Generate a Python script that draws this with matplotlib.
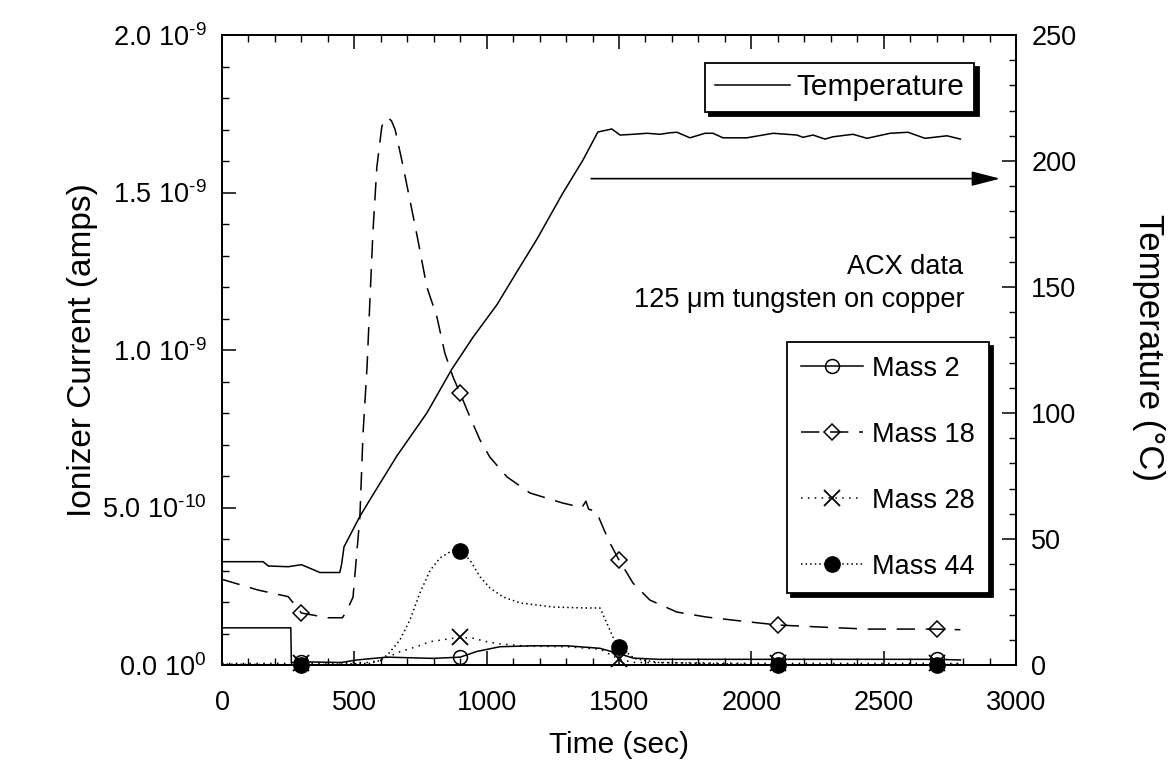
import numpy as np
import matplotlib
matplotlib.use('Agg')
import matplotlib.pyplot as plt
from matplotlib.ticker import MultipleLocator, FixedLocator, FixedFormatter

plt.rcParams['font.family'] = ['Liberation Sans', 'DejaVu Sans']
plt.rcParams['mathtext.fontset'] = 'custom'
plt.rcParams['mathtext.rm'] = 'Liberation Sans'
plt.rcParams['mathtext.it'] = 'Liberation Sans:italic'
plt.rcParams['mathtext.bf'] = 'Liberation Sans:bold'

FS = 19.5
FS_LEG1 = 21.5

# ---------------- data (ionizer current in units of 1e-9 A) ----------------
marker_times = [300, 900, 1500, 2100, 2700]

t_m2 = [0, 260, 262, 300, 450, 510, 623, 797, 900, 963, 1050, 1175, 1303, 1428,
        1504, 1553, 1650, 2100, 2700, 2790]
mass2 = [0.118, 0.118, 0.008, 0.010, 0.008, 0.016, 0.025, 0.021, 0.025, 0.043,
         0.058, 0.061, 0.061, 0.053, 0.035, 0.022, 0.018, 0.018, 0.018, 0.016]

t_m18 = [0, 136, 250, 300, 400, 455, 470, 495, 521, 533, 548, 559, 570, 585, 604,
         615, 627, 640, 654, 680, 710, 740, 774, 812, 842, 873, 900, 937, 975,
         1012, 1077, 1164, 1288, 1360, 1375, 1385, 1415, 1439, 1466, 1500, 1530,
         1553, 1617, 1719, 1832, 1957, 2100, 2248, 2437, 2700, 2790]
mass18 = [0.272, 0.238, 0.217, 0.165, 0.150, 0.150, 0.170, 0.215, 0.471, 0.737,
          0.946, 1.159, 1.370, 1.580, 1.710, 1.730, 1.737, 1.728, 1.700, 1.600,
          1.476, 1.350, 1.200, 1.105, 0.990, 0.914, 0.862, 0.787, 0.714, 0.660,
          0.597, 0.546, 0.514, 0.500, 0.520, 0.495, 0.486, 0.438, 0.387, 0.333,
          0.292, 0.260, 0.206, 0.168, 0.152, 0.140, 0.127, 0.121, 0.114, 0.114,
          0.112]

t_m28 = [0, 300, 550, 600, 672, 735, 786, 850, 900, 948, 1001, 1050, 1150, 1300,
         1430, 1500, 1560, 2100, 2700, 2790]
mass28 = [0.005, 0.005, 0.008, 0.015, 0.042, 0.058, 0.074, 0.082, 0.088, 0.085,
          0.074, 0.067, 0.060, 0.058, 0.050, 0.018, 0.008, 0.005, 0.005, 0.005]

t_m44 = [0, 300, 560, 600, 628, 672, 710, 748, 786, 824, 873, 900, 937, 975,
         1013, 1062, 1126, 1251, 1377, 1428, 1454, 1477, 1500, 1560, 1650, 2100,
         2700, 2790]
mass44 = [0.003, 0.0, 0.005, 0.015, 0.035, 0.079, 0.143, 0.229, 0.300, 0.340,
          0.365, 0.363, 0.333, 0.280, 0.244, 0.216, 0.197, 0.184, 0.181, 0.181,
          0.133, 0.089, 0.058, 0.020, 0.008, 0.0, 0.0, 0.003]

# temperature (deg C, right axis)
t_temp = [0, 155, 175, 250, 300, 330, 370, 445, 452, 461, 521, 570, 661, 774, 869,
          948, 1039, 1114, 1190, 1288, 1364, 1420, 1473, 1504, 1553, 1606, 1655,
          1692, 1719, 1768, 1825, 1855, 1893, 1983, 2082, 2172, 2195, 2233, 2278,
          2308, 2384, 2437, 2524, 2592, 2656, 2739, 2790]
temp_c = [41.0, 41.0, 39.3, 39.0, 39.8, 38.5, 36.7, 36.7, 40.0, 46.9, 59.0, 67.5,
          83.0, 100.0, 117.5, 130.0, 143.0, 156.0, 169.0, 187.3, 200.4, 211.5,
          212.7, 210.3, 210.6, 211.0, 210.6, 211.2, 211.4, 209.2, 211.0, 211.0,
          209.2, 209.2, 211.0, 210.3, 209.4, 210.3, 208.7, 209.6, 210.6, 209.0,
          211.0, 211.4, 209.0, 210.0, 208.7]

arrow_temp = 193
arrow_t = [1395, 2940]

y_ticks = [0.0, 0.5, 1.0, 1.5, 2.0]
y_ticklabels = [r'0.0 10$^{\text{0}}$', r'5.0 10$^{\text{-10}}$',
                r'1.0 10$^{\text{-9}}$', r'1.5 10$^{\text{-9}}$',
                r'2.0 10$^{\text{-9}}$']
x_ticks = [0, 500, 1000, 1500, 2000, 2500, 3000]
t_ticks = [0, 50, 100, 150, 200, 250]

# ---------------- figure ----------------
W, H = 1174, 775
fig = plt.figure(figsize=(W / 100, H / 100), dpi=100)
L, R, T, B = 222, 1016, 35, 665
ax = fig.add_axes([L / W, 1 - B / H, (R - L) / W, (B - T) / H])
ax2 = ax.twinx()


def midx(tt):
    return [i for i, v in enumerate(tt) if v in marker_times]


lw = 1.1
h2, = ax.plot(t_m2, mass2, color='k', lw=lw, marker='o', ms=10, mfc='none',
              mec='k', mew=1.1, markevery=midx(t_m2), clip_on=False, label='Mass 2')
h18, = ax.plot(t_m18, mass18, color='k', lw=lw, ls=(0, (12, 7)), marker='D', ms=8,
               mfc='none', mec='k', mew=1.1, markevery=midx(t_m18), clip_on=False,
               label='Mass 18')
h28, = ax.plot(t_m28, mass28, color='k', lw=lw, ls=(0, (1, 3.5)), marker='x', ms=11,
               mec='k', mew=1.3, markevery=midx(t_m28), clip_on=False, label='Mass 28')
h44, = ax.plot(t_m44, mass44, color='k', lw=lw, ls=(0, (1, 2)), marker='o', ms=11,
               mfc='k', mec='k', markevery=midx(t_m44), clip_on=False, label='Mass 44')

ht, = ax2.plot(t_temp, temp_c, color='k', lw=lw, label='Temperature')
ax2.annotate('', xy=(arrow_t[1], arrow_temp), xytext=(arrow_t[0], arrow_temp),
             arrowprops=dict(arrowstyle='-|>,head_length=0.7,head_width=0.18',
                             mutation_scale=25, color='k', lw=1.2,
                             shrinkA=0, shrinkB=0))

ax.set_xlim(0, 3000)
ax.set_ylim(0, 2.0)
ax2.set_ylim(0, 250)

ax.xaxis.set_major_locator(FixedLocator(x_ticks))
ax.xaxis.set_minor_locator(MultipleLocator(100))
ax.yaxis.set_major_locator(FixedLocator(y_ticks))
ax.yaxis.set_major_formatter(FixedFormatter(y_ticklabels))
ax.yaxis.set_minor_locator(MultipleLocator(0.1))
ax2.yaxis.set_major_locator(FixedLocator(t_ticks))
ax2.yaxis.set_minor_locator(MultipleLocator(10))

ax.tick_params(axis='x', which='both', direction='in', top=True, bottom=True,
               labelsize=FS, pad=18)
ax.tick_params(axis='y', which='both', direction='in', left=True, right=False,
               labelsize=FS, pad=11)
ax2.tick_params(axis='y', which='both', direction='in', right=True,
                labelsize=FS, pad=11)
for a in (ax, ax2):
    a.tick_params(which='major', length=10, width=1.1)
    a.tick_params(which='minor', length=5, width=1.0)
    for s in a.spines.values():
        s.set_linewidth(1.3)

ax.text(2800, 1.264, 'ACX data', ha='right', va='center', fontsize=FS)
ax.text(2805, 1.16, '125 \u03bcm tungsten on copper', ha='right', va='center',
        fontsize=FS)

fig.text(83 / W, 1 - 350 / H, 'Ionizer Current (amps)', rotation=90,
         ha='center', va='center', fontsize=24)
fig.text(1149 / W, 1 - 348 / H, 'Temperature (\u00b0C)', rotation=270,
         ha='center', va='center', fontsize=25)
fig.text((L + R) / 2 / W, 1 - 745 / H, 'Time (sec)', ha='center', va='center',
         fontsize=21.5)

shadow = {'ox': 3, 'oy': -3, 'facecolor': 'k', 'edgecolor': 'k', 'alpha': 1}
leg1 = ax2.legend(handles=[ht], loc='upper left',
                  bbox_to_anchor=(705 / W, 1 - 63 / H), bbox_transform=fig.transFigure,
                  borderaxespad=0, fancybox=False, edgecolor='k', framealpha=1,
                  shadow=shadow, fontsize=FS_LEG1, handlelength=2.5,
                  handletextpad=0.2, borderpad=0.35)
leg1.get_frame().set_linewidth(1.3)

leg2 = ax.legend(handles=[h2, h18, h28, h44], loc='upper left',
                 bbox_to_anchor=(787 / W, 1 - 342 / H), bbox_transform=fig.transFigure,
                 borderaxespad=0, fancybox=False, edgecolor='k', framealpha=1,
                 shadow=shadow, fontsize=FS, handlelength=2.3, handletextpad=0.35,
                 borderpad=0.5, labelspacing=1.48, numpoints=1)
leg2.get_frame().set_linewidth(1.3)
leg2.set_zorder(5)

fig.savefig('out.png', dpi=100)
